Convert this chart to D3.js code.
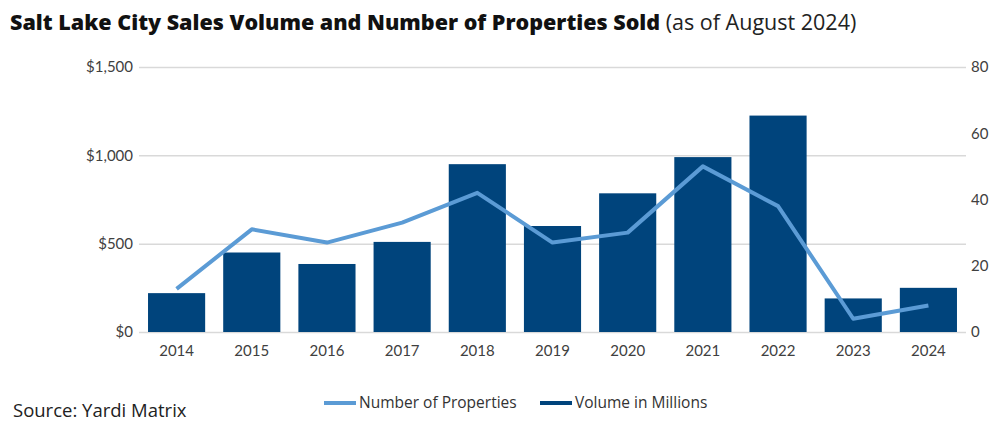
<!DOCTYPE html>
<html>
<head>
<meta charset="utf-8">
<script src="https://cdn.jsdelivr.net/npm/d3@7"></script>
<style>
  html, body { margin: 0; padding: 0; background: #fff; }
  svg { display: block; font-family: Lato, "Open Sans", sans-serif; }
</style>
</head>
<body>
<div id="chart"></div>
<script>
// data
const years = ['2014', '2015', '2016', '2017', '2018', '2019', '2020', '2021', '2022', '2023', '2024']
const volumeMillions = [220, 450, 385, 510, 950, 600, 785, 990, 1225, 190, 250]
const numProperties = [13, 31, 27, 33, 42, 27, 30, 50, 38, 4, 8]
const leftTicks = [0, 500, 1000, 1500]
const rightTicks = [0, 20, 40, 60, 80]

const BAR = '#00447c'
const LINE = '#5b9bd5'
const GRID = '#d9d9d9'
const TEXT = '#404040'

const width = 1007
const height = 433
const plot = { left: 139, right: 966, top: 67, bottom: 332 }

const svg = d3.select('#chart').append('svg')
  .attr('width', width).attr('height', height)

// Title
const title = svg.append('text').attr('x', 10).attr('y', 30)
  .attr('fill', '#111').style('font-size', '21.5px').style('font-family', '"Open Sans", sans-serif')
title.append('tspan').style('font-weight', '800').text('Salt Lake City Sales Volume and Number of Properties Sold')
title.append('tspan').style('font-weight', '400').attr('fill', '#222').text(' (as of August 2024)')

// Scales
const x = d3.scaleBand().domain(years).range([plot.left, plot.right])
  .paddingInner(0.24).paddingOuter(0.12)
const yL = d3.scaleLinear().domain([0, 1500]).range([plot.bottom, plot.top])
const yR = d3.scaleLinear().domain([0, 80]).range([plot.bottom, plot.top])

// Gridlines + left axis
const leftAxis = svg.append('g').attr('transform', `translate(${plot.left},0)`)
  .call(d3.axisLeft(yL).tickValues(leftTicks).tickSize(-(plot.right - plot.left)).tickPadding(6)
    .tickFormat(d => '$' + d3.format(',')(d)))
leftAxis.select('.domain').remove()
leftAxis.selectAll('line').attr('stroke', GRID).attr('stroke-width', 1.5)
leftAxis.selectAll('text').attr('fill', TEXT).style('font-size', '15px').style('font-family', 'Lato, sans-serif')

// Right axis
const rightAxis = svg.append('g').attr('transform', `translate(${plot.right},0)`)
  .call(d3.axisRight(yR).tickValues(rightTicks).tickSize(0).tickPadding(5))
rightAxis.select('.domain').remove()
rightAxis.selectAll('text').attr('fill', TEXT).style('font-size', '15px').style('font-family', 'Lato, sans-serif')

// Bars
svg.append('g').selectAll('rect').data(years).join('rect')
  .attr('x', d => x(d))
  .attr('y', (d, i) => yL(volumeMillions[i]))
  .attr('width', x.bandwidth())
  .attr('height', (d, i) => yL(0) - yL(volumeMillions[i]))
  .attr('fill', BAR)

// Line
const line = d3.line()
  .x((d, i) => x(years[i]) + x.bandwidth() / 2)
  .y(d => yR(d))
svg.append('path').datum(numProperties)
  .attr('d', line).attr('fill', 'none')
  .attr('stroke', LINE).attr('stroke-width', 4).attr('stroke-linejoin', 'round')

// X axis
const xAxis = svg.append('g').attr('transform', `translate(0,${plot.bottom})`)
  .call(d3.axisBottom(x).tickSize(0).tickPadding(13))
xAxis.select('.domain').remove()
xAxis.selectAll('text').attr('fill', TEXT).style('font-size', '15px').style('font-family', 'Lato, sans-serif')

// Legend
const legend = svg.append('g').style('font-size', '15.5px').style('font-family', '"Open Sans", sans-serif')
const items = [
  { label: 'Number of Properties', color: LINE, x: 324 },
  { label: 'Volume in Millions', color: BAR, x: 540 }
]
items.forEach(it => {
  legend.append('line').attr('x1', it.x).attr('x2', it.x + 32).attr('y1', 403).attr('y2', 403)
    .attr('stroke', it.color).attr('stroke-width', 4)
  legend.append('text').attr('x', it.x + 35).attr('y', 408).attr('fill', '#333').text(it.label)
})

// Source
svg.append('text').attr('x', 13).attr('y', 417).attr('fill', '#222')
  .style('font-size', '18.5px').style('font-family', '"Open Sans", sans-serif').text('Source: Yardi Matrix')
</script>
</body>
</html>
